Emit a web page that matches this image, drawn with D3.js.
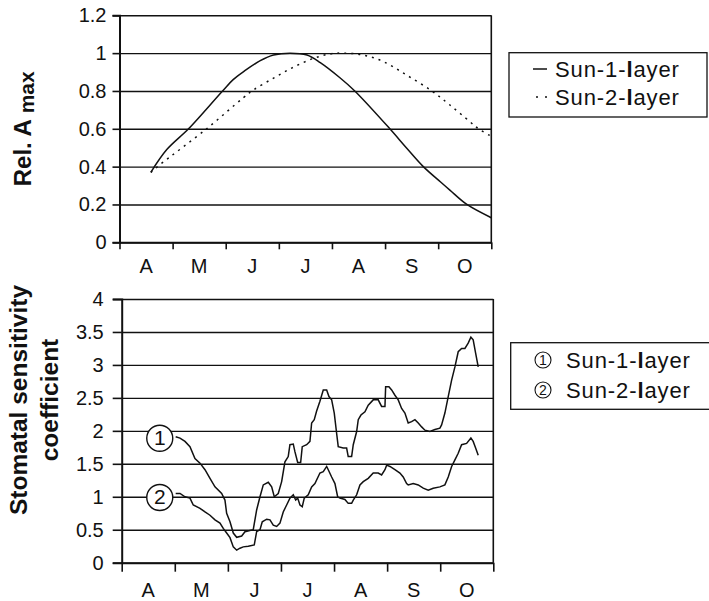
<!DOCTYPE html>
<html><head><meta charset="utf-8">
<script src="https://cdn.jsdelivr.net/npm/d3@7"></script>
<style>
body{margin:0;background:#fff}
svg{display:block;font-family:Arial,"Liberation Sans",sans-serif}
</style>
</head><body><svg id="chart" width="709" height="601"></svg>
<script>
// Month labels along the season (tick 0 = start of April)
const months = ["A", "M", "J", "J", "A", "S", "O"];
const amaxTicks = [0, 0.2, 0.4, 0.6, 0.8, 1, 1.2];
const sensTicks = [0, 0.5, 1, 1.5, 2, 2.5, 3, 3.5, 4];
const seriesNames = ["Sun-1-layer", "Sun-2-layer"];

// Relative Amax: [month position, value]
const amaxSun1 = [[0.59,0.37],[0.89,0.49],[1.30,0.60],[1.94,0.80],[2.14,0.86],[2.35,0.905],[2.65,0.96],[2.90,0.99],[3.21,1.0],[3.53,0.99],[3.78,0.95],[4.15,0.87],[4.43,0.80],[5.09,0.60],[5.40,0.50],[5.72,0.40],[6.04,0.32],[6.22,0.276],[6.54,0.20],[7.0,0.13]];
const amaxSun2 = [[0.59,0.37],[0.76,0.41],[1.64,0.60],[2.33,0.764],[2.52,0.805],[2.90,0.868],[3.27,0.925],[3.65,0.972],[3.97,0.996],[4.22,1.0],[4.59,0.99],[4.97,0.955],[5.40,0.885],[5.88,0.80],[6.22,0.726],[6.60,0.637],[6.76,0.60],[7.0,0.56]];

// Stomatal sensitivity coefficient: [month position, value]
const sensSun1 = [[1.017,1.91],[1.098,1.89],[1.192,1.84],[1.286,1.76],[1.380,1.58],[1.475,1.51],[1.569,1.41],[1.663,1.28],[1.757,1.15],[1.883,1.05],[1.945,0.95],[1.977,0.75],[2.040,0.62],[2.102,0.45],[2.166,0.385],[2.260,0.405],[2.322,0.47],[2.478,0.50],[2.542,0.80],[2.605,1.00],[2.667,1.18],[2.761,1.22],[2.825,1.15],[2.874,1.00],[2.949,1.05],[3.013,1.23],[3.075,1.53],[3.137,1.61],[3.169,1.79],[3.232,1.80],[3.264,1.68],[3.315,1.52],[3.371,1.52],[3.401,1.76],[3.484,1.79],[3.546,1.84],[3.578,2.12],[3.627,2.17],[3.672,2.30],[3.734,2.45],[3.797,2.62],[3.861,2.62],[3.904,2.52],[3.955,2.47],[4.004,2.27],[4.049,1.96],[4.079,1.76],[4.173,1.74],[4.237,1.74],[4.267,1.61],[4.331,1.61],[4.362,1.79],[4.426,1.99],[4.456,2.17],[4.507,2.24],[4.582,2.29],[4.644,2.39],[4.738,2.47],[4.832,2.47],[4.896,2.37],[4.959,2.37],[4.972,2.67],[5.034,2.67],[5.085,2.62],[5.147,2.54],[5.209,2.47],[5.273,2.34],[5.335,2.27],[5.397,2.12],[5.461,2.14],[5.524,2.17],[5.586,2.12],[5.650,2.06],[5.712,2.01],[5.806,1.99],[5.900,2.02],[5.994,2.04],[6.026,2.09],[6.088,2.27],[6.151,2.52],[6.215,2.77],[6.277,2.97],[6.339,3.20],[6.403,3.25],[6.465,3.25],[6.527,3.33],[6.578,3.42],[6.621,3.38],[6.667,3.18],[6.716,2.97]];
const sensSun2 = [[1.017,1.05],[1.098,1.05],[1.192,1.00],[1.286,0.98],[1.348,0.875],[1.475,0.825],[1.569,0.77],[1.663,0.72],[1.757,0.65],[1.851,0.60],[1.913,0.52],[1.977,0.45],[2.040,0.38],[2.102,0.24],[2.166,0.19],[2.228,0.22],[2.290,0.24],[2.384,0.25],[2.497,0.27],[2.542,0.47],[2.605,0.50],[2.648,0.62],[2.731,0.66],[2.793,0.65],[2.855,0.57],[2.919,0.55],[2.981,0.60],[3.043,0.77],[3.107,0.875],[3.169,0.98],[3.232,1.03],[3.277,0.95],[3.315,0.98],[3.358,0.875],[3.401,0.85],[3.439,0.98],[3.514,1.03],[3.578,1.15],[3.640,1.20],[3.734,1.36],[3.797,1.38],[3.861,1.46],[3.891,1.41],[3.955,1.30],[4.017,1.20],[4.068,1.00],[4.111,0.98],[4.205,0.96],[4.267,0.90],[4.331,0.90],[4.362,0.95],[4.426,1.03],[4.488,1.18],[4.550,1.23],[4.644,1.28],[4.738,1.36],[4.832,1.36],[4.896,1.33],[4.959,1.41],[4.991,1.48],[5.053,1.46],[5.147,1.41],[5.241,1.36],[5.303,1.30],[5.367,1.20],[5.397,1.18],[5.492,1.20],[5.586,1.18],[5.680,1.13],[5.774,1.10],[5.868,1.13],[5.994,1.15],[6.088,1.18],[6.151,1.30],[6.215,1.46],[6.277,1.56],[6.339,1.66],[6.403,1.79],[6.497,1.81],[6.578,1.89],[6.621,1.84],[6.667,1.74],[6.716,1.63]];

const svg = d3.select("#chart");
const ink = "#111";

function panel(opts) {
  const g = svg.append("g");
  const x = d3.scaleLinear().domain([0, 7]).range([opts.left, opts.right]);
  const y = d3.scaleLinear().domain([0, opts.yMax]).range([opts.bottom, opts.top]);
  const w = opts.right - opts.left;

  // horizontal grid lines
  g.append("g").attr("transform", `translate(${opts.left},0)`)
    .call(d3.axisLeft(y).tickValues(opts.ticks).tickSize(-w).tickFormat(""))
    .call(s => s.select(".domain").remove())
    .call(s => s.selectAll("line").attr("stroke", ink).attr("stroke-width", 1.4));

  // y axis with outward ticks and labels
  g.append("g").attr("transform", `translate(${opts.left},0)`)
    .call(d3.axisLeft(y).tickValues(opts.ticks).tickSize(opts.tick).tickPadding(opts.pad).tickFormat(d => String(d)))
    .call(s => s.select(".domain").attr("stroke", ink).attr("stroke-width", 2))
    .call(s => s.selectAll("line").attr("stroke", ink).attr("stroke-width", 1.6))
    .call(s => s.selectAll("text").attr("fill", ink).attr("font-size", 20).attr("font-family", "Arial, Liberation Sans, sans-serif"));

  // x axis: month boundaries, labels centred in each month
  g.append("g").attr("transform", `translate(0,${opts.bottom})`)
    .call(d3.axisBottom(x).tickValues(d3.range(0, 8)).tickSize(opts.tick).tickSizeOuter(0).tickFormat(""))
    .call(s => s.select(".domain").attr("stroke", ink).attr("stroke-width", 2))
    .call(s => s.selectAll("line").attr("stroke", ink).attr("stroke-width", 1.6));
  g.append("g").selectAll("text").data(months).join("text")
    .attr("x", (d, i) => x(i + 0.5)).attr("y", opts.bottom + opts.monthDy)
    .attr("text-anchor", "middle").attr("font-size", 20).attr("fill", ink).text(d => d);

  // right frame
  g.append("line").attr("x1", x(7)).attr("x2", x(7)).attr("y1", y(opts.yMax)).attr("y2", opts.bottom)
    .attr("stroke", ink).attr("stroke-width", 1.6);

  const line = d3.line().x(d => x(d[0])).y(d => y(d[1]));
  return {g, x, y, line};
}

function legendLabel(sel, x, y, name) {
  const t = sel.append("text").attr("x", x).attr("y", y).attr("font-size", 22)
    .attr("letter-spacing", 0.9).attr("fill", ink);
  const [a, b] = name.split("l");
  t.append("tspan").text(a);
  t.append("tspan").attr("font-weight", "bold").text("l");
  t.append("tspan").text(b);
}

// ---- upper panel: relative Amax ----
const upper = panel({left: 119.5, right: 491.3, top: 15.3, bottom: 242.3, yMax: 1.2, ticks: amaxTicks, tick: 7, pad: 6, monthDy: 31});
const smooth = d3.curveCatmullRom.alpha(0.5);
upper.g.append("path").datum(amaxSun1).attr("fill", "none").attr("stroke", ink).attr("stroke-width", 1.5)
  .attr("d", upper.line.curve(smooth));
upper.g.append("path").datum(amaxSun2).attr("fill", "none").attr("stroke", ink).attr("stroke-width", 1.5)
  .attr("stroke-dasharray", "2,5").attr("d", upper.line.curve(smooth));

const yt1 = svg.append("text").attr("transform", `translate(31,${(15.3 + 242.3) / 2}) rotate(-90)`)
  .attr("text-anchor", "middle").attr("font-weight", "bold").attr("fill", ink);
yt1.append("tspan").attr("font-size", 24).text("Rel. A ");
yt1.append("tspan").attr("font-size", 21).attr("dy", 3).text("max");

// upper legend
const lg1 = svg.append("g");
lg1.append("rect").attr("x", 509).attr("y", 52.7).attr("width", 198).attr("height", 64.3)
  .attr("fill", "#fff").attr("stroke", ink).attr("stroke-width", 1.3);
[0, 1].forEach(i => {
  const yy = 69 + i * 28;
  lg1.append("line").attr("x1", i ? 536 : 533).attr("x2", 547).attr("y1", yy).attr("y2", yy)
    .attr("stroke", ink).attr("stroke-width", 1.5).attr("stroke-dasharray", i ? "2,7" : null);
  legendLabel(lg1, 555, yy + 7.5, seriesNames[i]);
});

// ---- lower panel: stomatal sensitivity ----
const lower = panel({left: 121.7, right: 493.3, top: 299, bottom: 562.7, yMax: 4, ticks: sensTicks, tick: 9, pad: 9, monthDy: 34});
[sensSun1, sensSun2].forEach((s, i) => {
  lower.g.append("path").datum(s).attr("fill", "none").attr("stroke", ink).attr("stroke-width", 1.5)
    .attr("stroke-linejoin", "miter").attr("d", lower.line.curve(d3.curveLinear));
  // numbered marker just left of each series start
  const cx = lower.x(s[0][0] - 0.3), cy = lower.y(s[0][1]) + (i ? 4 : 1.5);
  lower.g.append("circle").attr("cx", cx).attr("cy", cy).attr("r", 13)
    .attr("fill", "#fff").attr("stroke", ink).attr("stroke-width", 1.4);
  lower.g.append("text").attr("x", cx).attr("y", cy + 7).attr("text-anchor", "middle")
    .attr("font-size", 21).attr("fill", ink).text(i + 1);
});

const yt2 = svg.append("text").attr("transform", `translate(0,400) rotate(-90)`)
  .attr("text-anchor", "middle").attr("font-weight", "bold").attr("font-size", 24.5).attr("fill", ink);
yt2.append("tspan").attr("x", 0).attr("y", 26.5).text("Stomatal sensitivity");
yt2.append("tspan").attr("x", 0).attr("y", 58).text("coefficient");

// lower legend
const lg2 = svg.append("g");
lg2.append("rect").attr("x", 510.7).attr("y", 342.7).attr("width", 210).attr("height", 66.6)
  .attr("fill", "#fff").attr("stroke", ink).attr("stroke-width", 1.3);
[0, 1].forEach(i => {
  const yy = 360 + i * 30;
  lg2.append("circle").attr("cx", 543).attr("cy", yy).attr("r", 8)
    .attr("fill", "none").attr("stroke", ink).attr("stroke-width", 1.1);
  lg2.append("text").attr("x", 543).attr("y", yy + 5).attr("text-anchor", "middle")
    .attr("font-size", 14).attr("fill", ink).text(i + 1);
  legendLabel(lg2, 566, yy + 7.5, seriesNames[i]);
});
</script>
</body></html>
